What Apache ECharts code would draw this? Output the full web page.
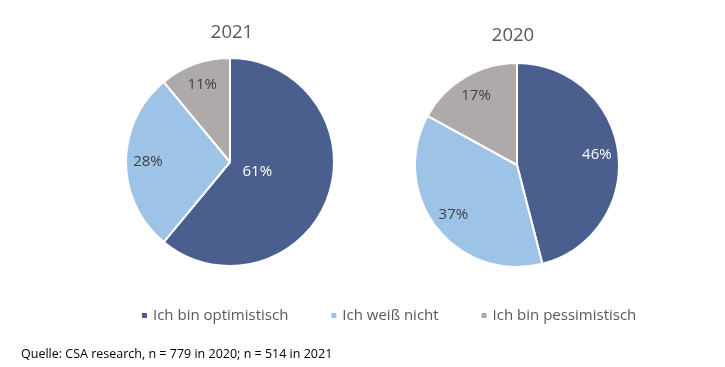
<!DOCTYPE html>
<html><head><meta charset="utf-8">
<script src="https://cdn.jsdelivr.net/npm/echarts@6/dist/echarts.min.js"></script>
<style>html,body{margin:0;padding:0;background:#fff}#c{width:725px;height:367px}</style>
</head><body><div id="c"></div>
<script>
const categories = ['Ich bin optimistisch', 'Ich weiß nicht', 'Ich bin pessimistisch'];
const years = ['2021', '2020'];
const values2021 = [61, 28, 11];
const values2020 = [46, 37, 17];
const sourceText = 'Quelle: CSA research, n = 779 in 2020; n = 514 in 2021';

const colors = ['#4A5F8D', '#9DC3E6', '#AEAAAA'];
const labelColors = ['#FFFFFF', '#404040', '#404040'];
const FONT = '"Open Sans", sans-serif';

const pies = [
  { values: values2021, center: [230, 162], r: 104, deepLabel: [true, false, false] },
  { values: values2020, center: [517, 165], r: 102, deepLabel: [false, false, false] }
];

const series = [];
pies.forEach((p) => {
  const mk = (showFn, visible) => categories.map((name, i) => ({
    name, value: p.values[i],
    itemStyle: { color: visible ? colors[i] : 'rgba(0,0,0,0)' },
    label: { show: showFn(i), color: labelColors[i] }
  }));
  series.push({
    type: 'pie', center: p.center, radius: [0, p.r], startAngle: 90, clockwise: true,
    label: { show: false }, labelLine: { show: false },
    itemStyle: { borderColor: '#fff', borderWidth: 2 },
    emphasis: { disabled: true }, silent: true,
    data: mk(() => false, true)
  });
  series.push({
    type: 'pie', center: p.center, radius: [p.r * 0.52, p.r], startAngle: 90, clockwise: true,
    label: { position: 'inside', formatter: '{c}%', fontFamily: FONT, fontSize: 15 },
    labelLine: { show: false }, silent: true, emphasis: { disabled: true },
    itemStyle: { borderWidth: 0 }, legendHoverLink: false,
    data: mk(i => !p.deepLabel[i], false)
  });
  series.push({
    type: 'pie', center: p.center, radius: [0, p.r * 0.5], startAngle: 90, clockwise: true,
    label: { position: 'inside', formatter: '{c}%', fontFamily: FONT, fontSize: 15 },
    labelLine: { show: false }, silent: true, emphasis: { disabled: true },
    itemStyle: { borderWidth: 0 }, legendHoverLink: false,
    data: mk(i => p.deepLabel[i], false)
  });
});

const chart = echarts.init(document.getElementById('c'), null, { renderer: 'canvas' });
chart.setOption({
  animation: false,
  color: colors,
  title: [
    { text: years[0], left: 227, top: 18, textAlign: 'center', textStyle: { fontFamily: FONT, fontSize: 18.5, fontWeight: 'normal', color: '#595959' } },
    { text: years[1], left: 508, top: 21, textAlign: 'center', textStyle: { fontFamily: FONT, fontSize: 18.5, fontWeight: 'normal', color: '#595959' } },
    { text: sourceText, left: 16, top: 343, textStyle: { fontFamily: FONT, fontSize: 12.5, fontWeight: 'normal', color: '#000' } }
  ],
  legend: {
    data: categories, left: 135, top: 303, icon: 'rect', itemWidth: 7, itemHeight: 7, itemGap: 41,
    selectedMode: false,
    textStyle: { fontFamily: FONT, fontSize: 15, color: '#595959' }
  },
  series
});
</script></body></html>
